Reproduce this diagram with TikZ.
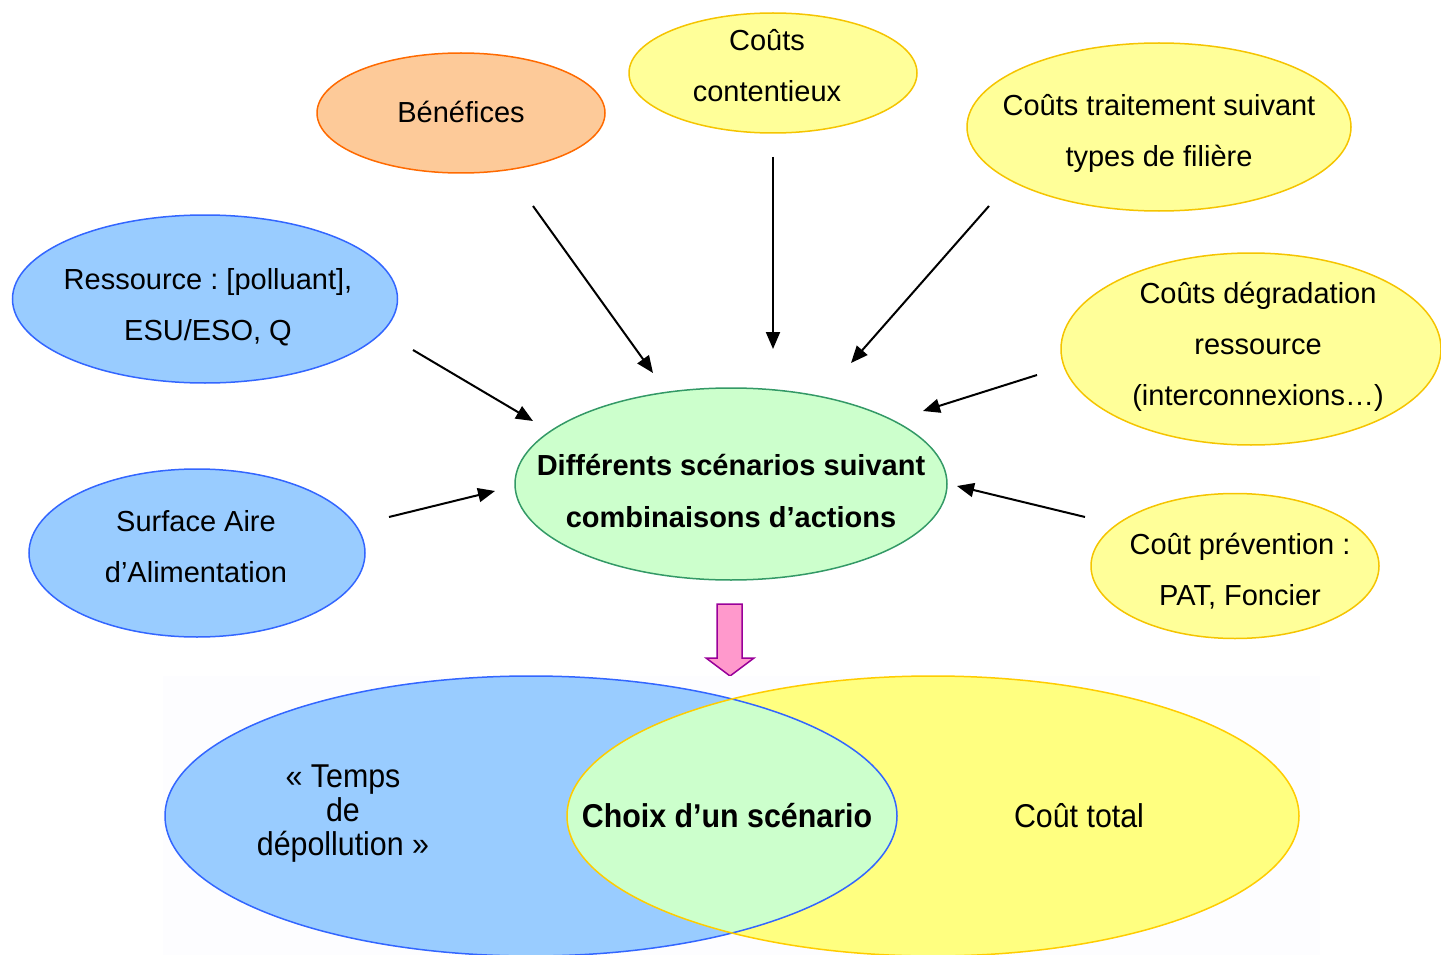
\documentclass[tikz,border=0pt]{standalone}
\usepackage{fontspec}
\setmainfont{Liberation Sans}
\newfontfamily\narrowfont[FakeStretch=0.92]{Liberation Sans}
\usetikzlibrary{arrows.meta,shapes.geometric}
\frenchspacing
\definecolor{orfill}{HTML}{FDCA99}
\definecolor{ordraw}{HTML}{FF6A00}
\definecolor{yefill}{HTML}{FFFF99}
\definecolor{yedraw}{HTML}{F5C400}
\definecolor{blfill}{HTML}{99CCFF}
\definecolor{bldraw}{HTML}{3366FF}
\definecolor{grfill}{HTML}{CCFFCC}
\definecolor{grdraw}{HTML}{339966}
\definecolor{pkfill}{HTML}{FF99CC}
\definecolor{pkdraw}{HTML}{990099}
\definecolor{vyfill}{HTML}{FFFF80}
\definecolor{vydraw}{HTML}{FFCC00}
\definecolor{bgfaint}{HTML}{FDFDFF}
\tikzset{
  ell/.style={ellipse, line width=1.5pt, inner sep=0pt},
  orell/.style={ell, draw=ordraw, fill=orfill},
  yeell/.style={ell, draw=yedraw, fill=yefill},
  blell/.style={ell, draw=bldraw, fill=blfill},
  grell/.style={ell, draw=grdraw, fill=grfill},
  txt/.style={align=center, font=\fontsize{29}{51}\selectfont, inner sep=0pt},
  btxt/.style={txt, font=\fontsize{29}{52}\selectfont\bfseries},
  vtxt/.style={align=center, font=\fontsize{33}{34}\selectfont\narrowfont, inner sep=0pt},
  arr/.style={-{Triangle[length=17pt,width=14pt]}, line width=2pt, black},
}
\begin{document}
\begin{tikzpicture}[x=1pt,y=-1pt]
\useasboundingbox (0,0) rectangle (1441,955);
% top ellipses
\node[orell, minimum width=288pt, minimum height=120pt] (ben) at (461,113) {};
\node[txt] (benT) at (461,112) {Bénéfices};
\node[yeell, minimum width=288pt, minimum height=120pt] (cont) at (773,73) {};
\node[txt] (contT) at (767,66) {Coûts\\contentieux};
\node[yeell, minimum width=384pt, minimum height=168pt] (trai) at (1159,127) {};
\node[txt] (traiT) at (1159,133) {Coûts traitement suivant\\types de filière};
\node[yeell, minimum width=380pt, minimum height=192pt] (degr) at (1251,349) {};
\node[txt] (degrT) at (1258,347) {Coûts dégradation\\ressource\\(interconnexions…)};
\node[yeell, minimum width=288pt, minimum height=145pt] (prev) at (1235,566) {};
\node[txt] (prevT) at (1240,571) {Coût prévention :\\PAT, Foncier};
\node[blell, minimum width=385pt, minimum height=168pt] (ress) at (205,299) {};
\node[txt] (ressT) at (208,307) {Ressource : [polluant],\\ESU/ESO, Q};
\node[blell, minimum width=336pt, minimum height=168pt] (surf) at (197,553) {};
\node[txt] (surfT) at (196,547) {Surface Aire\\d’Alimentation};
\node[grell, minimum width=432pt, minimum height=192pt] (cent) at (731,484) {};
\node[btxt] (centT) at (731,491) {Différents scénarios suivant\\combinaisons d’actions};
% arrows
\coordinate (a1) at (533,206); \coordinate (b1) at (653,373);
\coordinate (a2) at (773,157); \coordinate (b2) at (773,349);
\coordinate (a3) at (989,206); \coordinate (b3) at (851,363);
\coordinate (a4) at (1037,375); \coordinate (b4) at (923,411);
\coordinate (a5) at (1085,517); \coordinate (b5) at (957,486);
\coordinate (a6) at (413,350); \coordinate (b6) at (533,421);
\coordinate (a7) at (389,517); \coordinate (b7) at (495,491);
\draw[arr] (a1) -- (b1);
\draw[arr] (a2) -- (b2);
\draw[arr] (a3) -- (b3);
\draw[arr] (a4) -- (b4);
\draw[arr] (a5) -- (b5);
\draw[arr] (a6) -- (b6);
\draw[arr] (a7) -- (b7);
% pink block arrow
\draw[fill=pkfill, draw=pkdraw, line width=1.5pt, line join=miter]
  (717,604) -- (742,604) -- (742,658) -- (754,658) -- (730,676) -- (706,658) -- (717,658) -- cycle;
% Venn
\fill[bgfaint] (163,676) rectangle (1320,955);
\fill[blfill] (531,816) ellipse [x radius=366, y radius=140];
\fill[vyfill] (933,816) ellipse [x radius=366, y radius=140];
\begin{scope}
  \clip (531,816) ellipse [x radius=366, y radius=140];
  \fill[grfill] (933,816) ellipse [x radius=366, y radius=140];
\end{scope}
\draw[bldraw, line width=1.5pt] (531,816) ellipse [x radius=366, y radius=140];
\draw[vydraw, line width=1.5pt] (933,816) ellipse [x radius=366, y radius=140];
\node[vtxt] (temps) at (343,814) {« Temps\\de\\dépollution »};
\node[vtxt, font=\fontsize{33}{34}\selectfont\narrowfont\bfseries] (choix) at (727,816) {Choix d’un scénario};
\node[vtxt] (cout) at (1079,816) {Coût total};
\end{tikzpicture}
\end{document}
